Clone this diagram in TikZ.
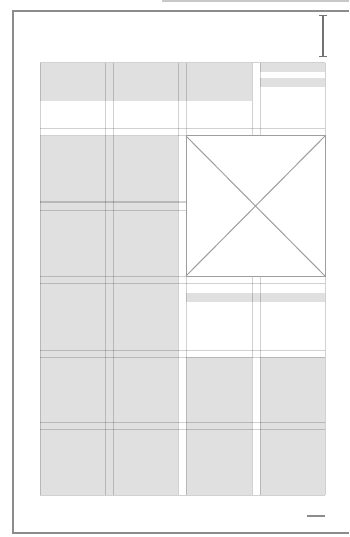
\documentclass[tikz,border=0pt]{standalone}
\usepackage{xcolor}
\usepackage{tikz}
\definecolor{blockgray}{RGB}{224,224,224}
\definecolor{bargray}{RGB}{200,200,200}
\definecolor{framegray}{RGB}{140,140,140}

\begin{document}
\begin{tikzpicture}[
    x=1pt, y=-1pt,
    block/.style={fill=blockgray},
    guide/.style={draw=black, draw opacity=0.18, line width=1pt},
    pageframe/.style={draw=framegray, line width=1.4pt},
    placeholder/.style={fill=white, draw=black!38, line width=1pt},
    marker/.style={draw=black!55, line width=1.1pt, |-|}
]
    \useasboundingbox (0,0) rectangle (349,537);

    % Window bar and page edge
    \fill[bargray] (162,0) rectangle (349,2.5);
    \draw[pageframe] (349,11) -- (13,11) -- (13,533) -- (349,533);

    % Grey content blocks
    \path[block] (40,63) rectangle (252,101);
    \path[block] (260,63) rectangle (325,72);
    \path[block] (260,78) rectangle (325,87);
    \path[block] (40,136) rectangle (178,495);
    \path[block] (186,293) rectangle (325,302);
    \path[block] (186,357) rectangle (252,495);
    \path[block] (260,357) rectangle (325,495);

    % Column and row guides
    \foreach \gx in {40,105,113,178,186,252,260,325}
        \draw[guide] (\gx,63) -- (\gx,495);
    \foreach \gy in {63,129,136,202,210,276,283,350,357,422,429,495}
        \draw[guide] (40,\gy) -- (325,\gy);

    % Image placeholder
    \draw[placeholder] (186,136) rectangle (325,276);
    \draw[placeholder] (186,136) -- (325,276) (325,136) -- (186,276);

    % Margin markers
    \draw[marker] (323,15) -- (323,57);
    \draw[draw=black!45, line width=1.3pt] (307,516) -- (325,516);
\end{tikzpicture}
\end{document}
